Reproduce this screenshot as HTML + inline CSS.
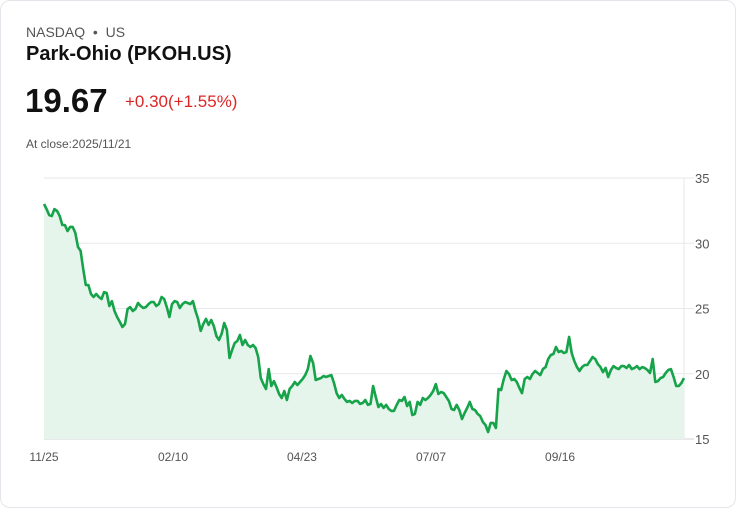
<!DOCTYPE html>
<html><head><meta charset="utf-8"><style>
body{margin:0;background:#fff;font-family:"Liberation Sans",sans-serif}
.card{position:absolute;left:0;top:0;width:734px;height:506px;border:1px solid #e3e6ea;border-radius:10px;background:#fff}
.t{position:absolute;white-space:nowrap}
</style></head><body>
<div class="card">
<div class="t" style="left:25px;top:23px;font-size:14px;color:#555">NASDAQ&nbsp; •&nbsp; US</div>
<div class="t" style="left:25px;top:42px;font-size:20px;font-weight:bold;color:#111">Park-Ohio (PKOH.US)</div>
<div class="t" style="left:24px;top:81px;font-size:33px;font-weight:bold;color:#111">19.67</div>
<div class="t" style="left:124px;top:91px;font-size:17px;color:#dc2626">+0.30(+1.55%)</div>
<div class="t" style="left:25px;top:136px;font-size:12px;color:#555">At close:2025/11/21</div>
<svg id="chart" width="736" height="508" style="position:absolute;left:0;top:0"></svg>
</div>
<script>
const prices=[33.01,32.62,32.16,32.09,32.62,32.47,32.09,31.40,31.40,30.94,31.25,31.25,30.79,29.71,29.41,28.03,26.80,26.80,26.11,25.88,26.11,25.88,25.73,26.26,26.19,25.19,25.57,24.81,24.35,23.97,23.58,23.81,24.96,25.11,24.81,24.96,25.42,25.19,25.04,25.11,25.34,25.50,25.50,25.19,25.34,25.88,25.73,25.11,24.35,25.34,25.57,25.50,25.04,25.34,25.50,25.42,25.34,25.57,24.81,24.20,23.28,23.81,24.20,23.74,24.12,23.66,22.89,22.59,23.05,23.89,23.35,21.21,21.82,22.36,22.51,22.97,22.20,22.59,22.20,22.05,22.20,21.97,21.28,19.67,19.21,18.83,20.36,19.06,19.44,18.98,18.45,18.14,18.68,17.99,18.83,19.06,19.37,19.14,19.37,19.60,19.90,20.36,21.36,20.82,19.52,19.60,19.67,19.83,19.75,19.83,19.90,19.29,18.52,18.14,18.37,18.07,17.84,17.92,17.76,17.92,17.92,17.69,17.76,17.99,17.61,17.69,19.06,18.21,17.45,17.68,17.38,17.61,17.30,17.15,17.15,17.61,17.99,17.92,18.22,17.53,17.84,16.84,16.92,17.84,17.61,18.14,17.99,18.14,18.37,18.68,19.21,18.45,18.60,18.52,18.22,17.91,17.30,17.22,17.61,17.22,16.53,16.99,17.38,17.84,17.30,17.22,16.92,16.76,16.30,16.07,15.54,16.23,16.23,15.84,18.83,18.75,19.60,20.21,19.98,19.52,19.60,19.37,18.91,18.52,19.60,19.75,19.60,19.98,20.21,20.06,19.90,20.36,20.51,21.13,21.44,21.51,22.05,21.67,21.75,21.59,21.67,22.82,21.59,20.98,20.52,20.21,20.52,20.67,20.67,20.98,21.28,21.13,20.75,20.52,20.13,20.44,19.75,20.29,20.59,20.44,20.36,20.59,20.59,20.44,20.67,20.36,20.44,20.59,20.36,20.51,20.44,20.29,20.06,21.13,19.37,19.44,19.67,19.75,20.06,20.29,20.36,19.75,19.06,19.06,19.29,19.67];
const yTicks=[15,20,25,30,35];
const xLabels=["11/25","02/10","04/23","07/07","09/16"];
const xLabelFrac=[0,0.2016,0.4031,0.6047,0.8063];
const svg=document.getElementById('chart');
const NS='http://www.w3.org/2000/svg';
const X0=43,X1=683,Y0=438,Y1=177,VMIN=15,VMAX=35;
const n=prices.length;
const xs=i=>X0+(X1-X0)*i/(n-1);
const ys=v=>Y0-(v-VMIN)/(VMAX-VMIN)*(Y0-Y1);
function mk(tag,at){const e=document.createElementNS(NS,tag);for(const k in at)e.setAttribute(k,at[k]);svg.appendChild(e);return e;}
yTicks.forEach(v=>{
  const l=mk('line',{x1:X0,x2:X1+10,y1:ys(v),y2:ys(v),stroke:v===VMIN?'#d0d3d6':'#e6e8ea','stroke-width':1});
  
  
  const t=mk('text',{x:694,y:ys(v)+5,'font-size':13,fill:'#555','font-family':'Liberation Sans, sans-serif'});
  t.textContent=v;
  
  
});
const ax=mk('line',{x1:X1,x2:X1,y1:Y1,y2:Y0,stroke:'#e6e8ea','stroke-width':1});


xLabels.forEach((s,k)=>{
  const t=mk('text',{x:X0+(X1-X0)*xLabelFrac[k],y:460,'font-size':12,fill:'#555','text-anchor':'middle','font-family':'Liberation Sans, sans-serif'});
  t.textContent=s;
  
  
});
let d='';prices.forEach((v,i)=>{d+=(i?'L':'M')+xs(i).toFixed(1)+' '+ys(v).toFixed(1);});
const area=mk('path',{d:d+`L${X1} ${Y0}L${X0} ${Y0}Z`,fill:'#e6f5ec'});


const line=mk('path',{d:d,fill:'none',stroke:'#16a34a','stroke-width':2.6,'stroke-linejoin':'round'});


</script>
</body></html>
